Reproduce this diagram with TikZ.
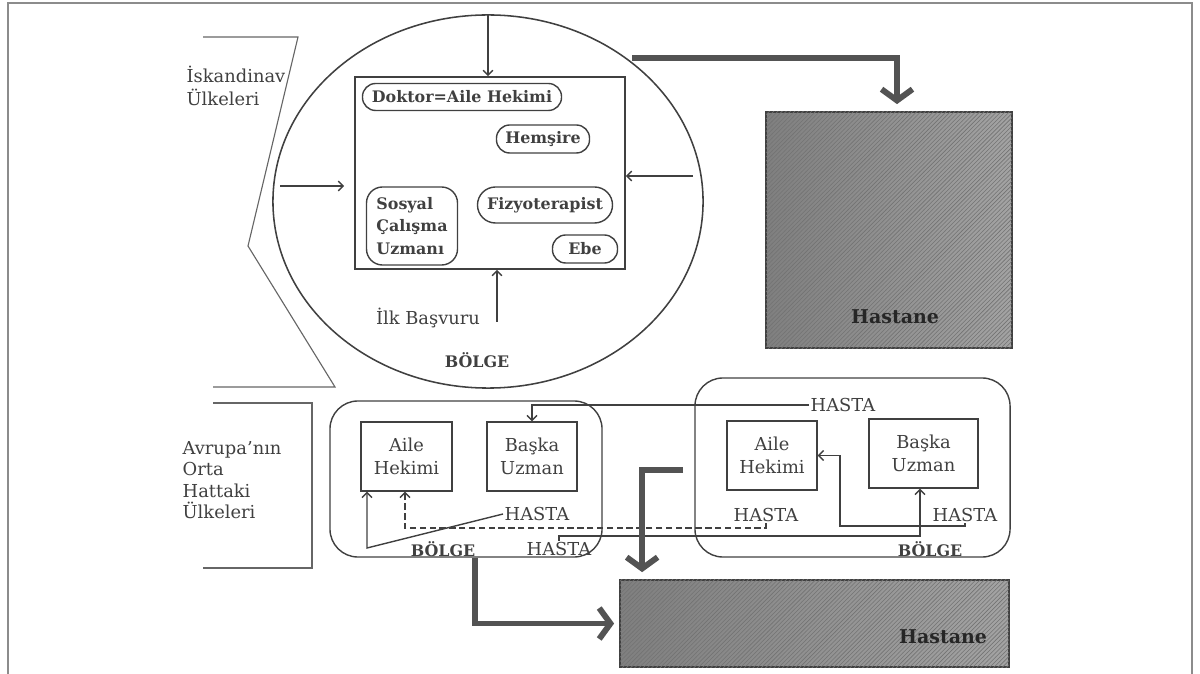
\documentclass[tikz,border=0pt]{standalone}
\usepackage{fontspec}
\setmainfont{DejaVu Serif}
\usetikzlibrary{arrows.meta, calc, positioning, patterns, shapes.geometric}
\definecolor{cizgi}{gray}{0.25}
\definecolor{dolgu}{gray}{0.5}
\definecolor{dolguacik}{gray}{0.64}
\tikzset{
  yazi/.style={text=cizgi, font=\fontsize{12.7}{16}\selectfont, inner sep=1pt},
  kalinyazi/.style={text=cizgi, font=\fontsize{11.3}{16}\selectfont\bfseries, inner sep=1pt},
  meslek/.style={draw=cizgi, line width=1pt, kalinyazi, rounded corners=0.33cm},
  kutucuk/.style={draw=cizgi, line width=1pt, yazi, align=center, minimum height=1.725cm},
  bolgekutu/.style={draw=cizgi, line width=1pt, rounded corners=0.7cm},
  hastanekutu/.style={draw=cizgi, line width=1.2pt, left color=dolgu, right color=dolguacik, postaction={pattern=north east lines, pattern color=black!55}},
  ince/.style={draw=cizgi, line width=1pt, -{Straight Barb[length=3.5pt,width=7pt]}},
  kesikli/.style={dash pattern=on 4.5pt off 2.5pt},
  kalin/.style={draw=cizgi!90, line width=4.2pt, -{Straight Barb[length=8pt,width=22pt]}},
}
\begin{document}
\begin{tikzpicture}[x=0.025cm, y=-0.025cm]
    \useasboundingbox (0,0) rectangle (1200,674);

    %frame and brackets
    \draw[cizgi!60, line width=0.8pt] (8,674) -- (8,3) -- (1192,3) -- (1192,674);
    \draw[cizgi!80, line width=0.8pt] (203,37) -- (298,37) -- (248,246) -- (335,387) -- (213,387);
    \draw[cizgi!80, line width=0.8pt] (213,403) -- (312,403) -- (312,568) -- (203,568);

    \node[yazi, anchor=west, align=left] (iskandinav) at (185,86) {İskandinav\\Ülkeleri};
    \node[yazi, anchor=west, align=left, font=\fontsize{12.7}{15.3}\selectfont] (avrupa) at (181,480) {Avrupa'nın\\Orta\\Hattaki\\Ülkeleri};

    %upper region
    \node[draw=cizgi, line width=1.1pt, ellipse, minimum width=10.75cm, minimum height=9.325cm] (bolge1) at (488,201.5) {};
    \node[draw=cizgi, line width=1.1pt, minimum width=6.75cm, minimum height=4.8cm] (ekip) at (490,173) {};

    \node[meslek, minimum width=4.975cm, minimum height=0.675cm] (doktor) at (462,97) {Doktor=Aile Hekimi};
    \node[meslek, minimum width=2.325cm, minimum height=0.7cm] (hemsire) at (543,139) {Hemşire};
    \node[meslek, minimum width=2.275cm, minimum height=1.95cm, rounded corners=0.4cm, align=left] (sosyal) at (412,226) {Sosyal\\Çalışma\\Uzmanı};
    \node[meslek, minimum width=3.375cm, minimum height=0.9cm, rounded corners=0.45cm] (fizyo) at (545,205) {Fizyoterapist};
    \node[meslek, minimum width=1.625cm, minimum height=0.7cm] (ebe) at (585,249) {Ebe};

    \node[yazi] (ilk) at (428,318) {İlk Başvuru};
    \node[kalinyazi] (bolgeyazi1) at (477,360) {BÖLGE};

    \coordinate (solgiris) at (280,186);
    \coordinate (saggiris) at (693,176);
    \coordinate (basvuru) at (497,322);
    \draw[ince] (bolge1.north) -- (bolge1.north |- ekip.north);
    \draw[ince, shorten >=0.25cm] (solgiris) -- (solgiris -| ekip.west);
    \draw[ince] (saggiris) -- (saggiris -| ekip.east);
    \draw[ince] (basvuru) -- (basvuru |- ekip.south);

    \node[hastanekutu, minimum width=6.15cm, minimum height=5.9cm] (hastane1) at (889,230) {};
    \node[kalinyazi, text=black!85, font=\fontsize{13.5}{15}\selectfont\bfseries] (hastaneyazi1) at (895,317) {Hastane};

    \coordinate (cikis) at (632,58);
    \draw[kalin, shorten >=0.175cm] (cikis) -| ([xshift=0.2cm]hastane1.north);

    %lower left region
    \node[bolgekutu, minimum width=6.8cm, minimum height=3.9cm] (bolge2) at (466,479) {};
    \node[kutucuk, minimum width=2.275cm] (aile2) at (406.5,456.5) {Aile\\Hekimi};
    \node[kutucuk, minimum width=2.25cm] (baska2) at (532,456.5) {Başka\\Uzman};
    \node[yazi] (hasta2a) at (537,514) {HASTA};
    \node[kalinyazi] (bolgeyazi2) at (443,549) {BÖLGE};
    \node[yazi] (hasta2b) at (559,549) {HASTA};

    %lower right region
    \node[bolgekutu, minimum width=7.875cm, minimum height=4.475cm] (bolge3) at (852.5,467.5) {};
    \node[kutucuk, minimum width=2.25cm] (aile3) at (772,455.5) {Aile\\Hekimi};
    \node[kutucuk, minimum width=2.725cm] (baska3) at (923.5,453.5) {Başka\\Uzman};
    \node[yazi] (hasta3a) at (843,405) {HASTA};
    \node[yazi] (hasta3b) at (766,515) {HASTA};
    \node[yazi] (hasta3c) at (965,515) {HASTA};
    \node[kalinyazi] (bolgeyazi3) at (930,549) {BÖLGE};

    %patient paths
    \coordinate (kose) at (367,548);
    \coordinate (kesik) at (405,528);
    \coordinate (alt) at (920,536);
    \coordinate (don) at (840,526);
    \draw[ince] (hasta2a.west) -- (kose) -- (kose |- aile2.south);
    \draw[ince, kesikli] (hasta3b.south) |- (kesik) -- (kesik |- aile2.south);
    \draw[ince] (hasta2b.north) |- (alt) -- (alt |- baska3.south);
    \draw[ince] (hasta3c.south) |- (don) |- (aile3.east);
    \draw[ince] (hasta3a.west) -| (baska2.north);

    \node[hastanekutu, minimum width=9.725cm, minimum height=2.175cm] (hastane2) at (814.5,623.5) {};
    \node[kalinyazi, text=black!85, font=\fontsize{13.5}{15}\selectfont\bfseries] (hastaneyazi2) at (943,637) {Hastane};

    \coordinate (orta) at (683,470);
    \draw[kalin, shorten >=0.175cm] (orta) -| ([xshift=0.575cm]hastane2.north west);
    \draw[kalin, shorten >=0.125cm] ([xshift=0.225cm]bolge2.south) |- (hastane2.west);

\end{tikzpicture}
\end{document}
